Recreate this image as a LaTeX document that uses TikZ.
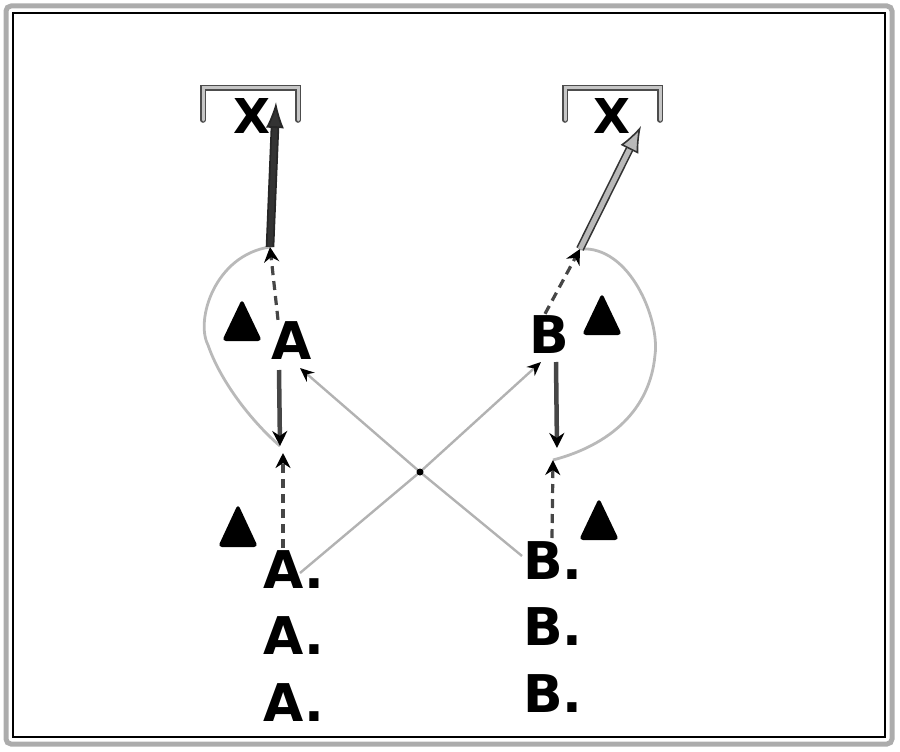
\documentclass[tikz,border=0pt]{standalone}
\usepackage{fontspec}
\setmainfont{DejaVu Sans}
\usetikzlibrary{arrows.meta}
\tikzset{
  lbl/.style={inner sep=0pt, font=\fontsize{52}{52}\selectfont\bfseries},
  xlbl/.style={inner sep=0pt, font=\fontsize{48}{48}\selectfont\bfseries},
  bracket/.style={draw=black!70, double=gray!45, double distance=3pt, line width=1.3pt, line cap=round},
  bigarrow/.style={draw=black!80, double=gray!55, double distance=5pt, line width=1.6pt,
     -{Latex[length=26pt,width=20pt,fill=gray!55]}},
  darkarrow/.style={draw=black!85, double=gray!40!black, double distance=5pt, line width=1.8pt,
     -{Latex[length=26pt,width=18pt,fill=gray!40!black]}},
  downarrow/.style={draw=gray!55!black, line width=4.5pt, -{Stealth[length=15pt,width=15pt,black]}},
  dashline/.style={draw=gray!55!black, line width=3.2pt, dash pattern=on 9pt off 6pt},
  uparrow/.style={dashline, -{Stealth[length=15pt,width=15pt,black]}},
  crossline/.style={draw=gray!60, line width=2.4pt, -{Stealth[length=14pt,width=12pt,black]}},
  curveline/.style={draw=gray!55, line width=2.8pt},
  tri/.style={fill=black, rounded corners=4pt},
}
\begin{document}
\begin{tikzpicture}[x=1pt,y=-1pt]
\useasboundingbox (0,0) rectangle (900,752);
% frame
\draw[gray!65, line width=5pt, rounded corners=5pt] (6,6) rectangle (892,744);
\draw[black, line width=1.6pt] (13,13) rectangle (885,737);

% brackets
\draw[bracket] (203,120) -- (203,88) -- (298,88) -- (298,120);
\draw[bracket] (565,120) -- (565,88) -- (660,88) -- (660,120);

% X labels
\node[xlbl] (xL) at (252,116) {X};
\node[xlbl] (xR) at (612,116) {X};
\coordinate (xLtip) at (276,102);
\coordinate (xRtip) at (641,126);

% junctions and points
\coordinate (jL) at (270,247);
\coordinate (jR) at (580,249);
\coordinate (pL1) at (280,446);
\coordinate (pL2) at (283,453);
\coordinate (pR1) at (557,448);
\coordinate (pR2) at (553,460);
\coordinate (cross) at (420,472);

% letters
\node[lbl] (A) at (292,341) {A};
\node[lbl] (B) at (549,335) {B};
\node[lbl, anchor=west] (A1) at (263,570) {A.};
\node[lbl, anchor=west] (A2) at (263,636) {A.};
\node[lbl, anchor=west] (A3) at (263,703) {A.};
\node[lbl, anchor=west] (B1) at (523,561) {B.};
\node[lbl, anchor=west] (B2) at (523,627) {B.};
\node[lbl, anchor=west] (B3) at (523,694) {B.};

% triangles
\fill[tri] (222,341) -- (242,299) -- (262,341) -- cycle;
\fill[tri] (218,547) -- (238,504) -- (258,547) -- cycle;
\fill[tri] (582,335) -- (602,293) -- (622,335) -- cycle;
\fill[tri] (579,540) -- (599,498) -- (619,540) -- cycle;

% curves
\draw[curveline] (jL) .. controls (215,255) and (195,320) .. (208,345) .. controls (220,380) and (250,420) .. (pL1);
\draw[curveline] (jR) .. controls (630,245) and (660,320) .. (655,355) .. controls (650,410) and (610,445) .. (pR2);

% big double arrows to X
\draw[darkarrow] (jL) -- (xLtip);
\draw[bigarrow] (jR) -- (xRtip);

% dashed lines from A and B to junctions
\draw[uparrow] (A.north) ++(-14,-2) -- (jL);
\draw[uparrow] (B.north) ++(-4,-2) -- (jR);

% down arrows
\draw[downarrow] (279,370) -- (pL1);
\draw[downarrow] (556,362) -- (pR1);

% up dashed arrows from lower letters
\draw[uparrow] (283,548) -- (pL2);
\draw[uparrow] (552,538) -- (pR2);

% cross lines
\draw[crossline] (300,573) -- (cross) -- (541,362);
\draw[crossline] (522,556) -- (cross) -- (300,368);
\fill (cross) circle (3.5pt);
\end{tikzpicture}
\end{document}
